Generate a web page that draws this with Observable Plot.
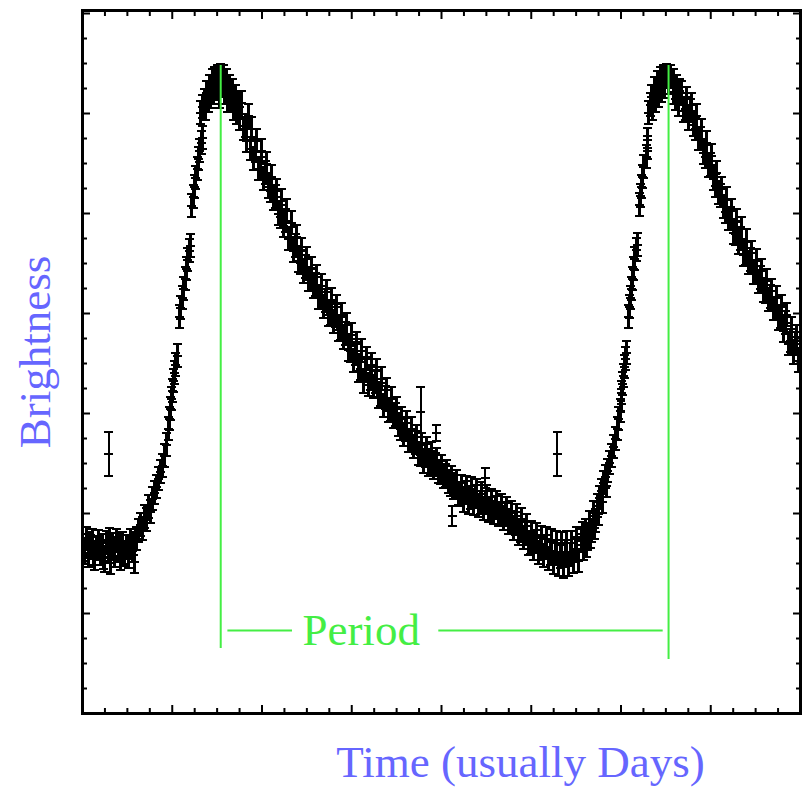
<!DOCTYPE html>
<html><head><meta charset="utf-8">
<script src="https://cdn.jsdelivr.net/npm/d3@7"></script>
<script src="https://cdn.jsdelivr.net/npm/@observablehq/plot@0.6"></script>
<style>body{margin:0;background:#fff}#chart{width:802px;height:789px}</style>
</head><body><div id="chart"></div>
<script>
// Time (days), Brightness (arbitrary units)
const minimum1 = [[0.00,1.68],[0.01,1.64],[0.02,1.61],[0.04,1.75],[0.07,1.58],[0.08,1.70],[0.09,1.67],[0.11,1.73],[0.12,1.60],[0.13,1.55],[0.16,1.65],[0.18,1.72],[0.19,1.66],[0.20,1.60],[0.22,1.68],[0.23,1.56],[0.25,1.53],[0.27,1.71],[0.29,1.62],[0.30,1.74],[0.31,1.51],[0.33,1.69],[0.35,1.65],[0.36,1.58],[0.38,1.73],[0.40,1.63],[0.41,1.68],[0.42,1.55],[0.45,1.70],[0.46,1.59],[0.47,1.61],[0.49,1.67],[0.51,1.57],[0.52,1.66],[0.53,1.73],[0.56,1.63],[0.57,1.70],[0.58,1.52],[0.60,1.75]];
const rise1 = [[0.62,1.83],[0.65,1.89],[0.67,1.85],[0.69,1.97],[0.71,1.94],[0.74,2.07],[0.76,2.02],[0.78,2.15],[0.80,2.21],[0.82,2.27],[0.85,2.35],[0.87,2.42],[0.89,2.48],[0.91,2.58],[0.94,2.69],[0.96,2.85],[0.97,2.95],[0.98,3.05],[0.99,3.15],[1.00,3.23],[1.01,3.33],[1.03,3.41],[1.04,3.49],[1.06,3.58],[1.08,3.97],[1.09,4.06],[1.11,4.16],[1.13,4.25],[1.15,4.35],[1.16,4.45],[1.17,4.54],[1.19,4.63],[1.20,4.68],[1.21,5.08],[1.24,5.17],[1.25,5.27],[1.26,5.36],[1.28,5.45],[1.29,5.55],[1.30,5.63],[1.33,5.71],[1.34,5.76]];
const peak1 = [[1.31,6.01],[1.34,6.07],[1.36,6.13],[1.37,6.05],[1.38,6.21],[1.40,6.13],[1.41,6.27],[1.43,6.17],[1.45,6.33],[1.46,6.21],[1.47,6.35],[1.49,6.25],[1.50,6.37],[1.53,6.17],[1.54,6.38],[1.55,6.28],[1.57,6.37],[1.58,6.21],[1.60,6.33],[1.62,6.13],[1.64,6.27],[1.65,6.15],[1.67,6.23],[1.68,6.05],[1.70,6.17],[1.72,6.01],[1.74,6.10],[1.75,5.95]];
const decline1 = [[1.77,6.11],[1.79,5.85],[1.82,5.88],[1.83,5.73],[1.85,5.98],[1.87,5.65],[1.88,5.85],[1.91,5.55],[1.93,5.63],[1.94,5.73],[1.96,5.45],[1.98,5.45],[1.99,5.63],[2.02,5.35],[2.04,5.41],[2.05,5.50],[2.07,5.27],[2.09,5.23],[2.11,5.37],[2.13,5.15],[2.15,5.17],[2.16,5.23],[2.18,5.00],[2.21,4.97],[2.22,5.13],[2.24,4.88],[2.26,4.93],[2.27,5.03],[2.30,4.75],[2.32,4.75],[2.33,4.91],[2.35,4.63],[2.37,4.68],[2.38,4.77],[2.41,4.53],[2.43,4.51],[2.44,4.64],[2.46,4.42],[2.48,4.47],[2.50,4.55],[2.52,4.34],[2.54,4.34],[2.55,4.45],[2.57,4.27],[2.60,4.29],[2.61,4.37],[2.63,4.16],[2.65,4.16],[2.66,4.28],[2.69,4.07],[2.71,4.13],[2.72,4.22],[2.74,3.99],[2.76,4.00],[2.77,4.14],[2.80,3.92],[2.82,3.98],[2.83,4.07],[2.85,3.84],[2.87,3.85],[2.89,3.99],[2.91,3.76],[2.93,3.80],[2.94,3.89],[2.96,3.64],[2.99,3.63],[3.00,3.79],[3.02,3.53],[3.04,3.60],[3.05,3.70],[3.08,3.43],[3.10,3.45],[3.11,3.63],[3.13,3.32],[3.15,3.45],[3.16,3.55],[3.19,3.29],[3.21,3.35],[3.22,3.49],[3.24,3.27],[3.26,3.32],[3.28,3.43],[3.30,3.17],[3.32,3.19],[3.33,3.35],[3.35,3.08],[3.38,3.16],[3.39,3.24],[3.41,3.03],[3.43,3.04],[3.44,3.15],[3.47,2.97],[3.49,2.99],[3.50,3.05],[3.52,2.89],[3.54,2.85],[3.55,2.95],[3.58,2.79],[3.60,2.84],[3.61,2.91],[3.63,2.73],[3.65,2.73],[3.67,2.85],[3.69,2.67],[3.71,2.71],[3.72,2.77],[3.74,2.60],[3.77,2.59],[3.78,2.69],[3.80,2.52],[3.82,2.58],[3.83,2.65],[3.86,2.49],[3.88,2.51],[3.89,2.60],[3.91,2.46],[3.93,2.49],[3.94,2.54],[3.97,2.42],[3.99,2.41],[4.00,2.47],[4.02,2.37],[4.04,2.38],[4.06,2.42],[4.08,2.32],[4.10,2.29],[4.11,2.36],[4.13,2.26],[4.16,2.27],[4.17,2.32],[4.19,2.20],[4.21,2.19],[4.22,2.27],[4.25,2.13],[4.27,2.21],[4.28,2.26],[4.30,2.11],[4.32,2.16],[4.33,2.25],[4.36,2.10],[4.38,2.17],[4.39,2.23],[4.41,2.08],[4.43,2.11],[4.45,2.20],[4.47,2.05],[4.49,2.11],[4.50,2.17],[4.52,2.03],[4.55,2.05],[4.56,2.13],[4.58,2.01],[4.60,2.06],[4.61,2.11],[4.64,1.99],[4.66,2.00],[4.67,2.08],[4.69,1.95],[4.71,1.99],[4.72,2.05],[4.75,1.91],[4.77,1.91],[4.78,2.01],[4.80,1.85],[4.82,1.90],[4.84,1.98],[4.86,1.80],[4.88,1.83],[4.89,1.94],[4.91,1.76],[4.94,1.80],[4.95,1.88],[4.97,1.70],[4.99,1.71],[5.00,1.81],[5.03,1.65],[5.05,1.72],[5.06,1.79],[5.08,1.61],[5.10,1.65],[5.11,1.76],[5.14,1.58],[5.16,1.67],[5.17,1.75],[5.19,1.55],[5.21,1.60],[5.23,1.73],[5.25,1.51],[5.27,1.62],[5.28,1.71],[5.30,1.49],[5.33,1.57],[5.34,1.70],[5.36,1.47],[5.38,1.62],[5.39,1.71],[5.42,1.49],[5.44,1.59],[5.45,1.71],[5.47,1.52],[5.49,1.65],[5.50,1.75],[5.53,1.53]];
const rise2 = [[5.56,1.73],[5.57,1.80],[5.58,1.65],[5.60,1.83],[5.62,1.68],[5.63,1.75],[5.65,1.91],[5.66,1.77],[5.67,1.83],[5.69,2.01],[5.71,1.86],[5.72,1.93],[5.74,2.08],[5.75,2.00],[5.76,2.16],[5.78,2.23],[5.79,2.12],[5.80,2.31],[5.83,2.37],[5.84,2.28],[5.85,2.43],[5.87,2.51],[5.89,2.58],[5.92,2.67],[5.94,2.75],[5.96,2.85],[5.97,2.95],[5.99,3.03],[6.00,3.13],[6.01,3.21],[6.02,3.30],[6.03,3.38],[6.04,3.47],[6.05,3.55],[6.06,3.61],[6.08,3.97],[6.09,4.07],[6.11,4.16],[6.12,4.25],[6.13,4.35],[6.14,4.45],[6.15,4.55],[6.17,4.64],[6.18,4.69],[6.21,5.09],[6.22,5.18],[6.23,5.27],[6.24,5.37],[6.25,5.47],[6.28,5.57],[6.29,5.66],[6.30,5.74]];
const peak2 = [[6.31,6.01],[6.33,6.09],[6.34,6.17],[6.35,6.05],[6.37,6.25],[6.38,6.13],[6.41,6.31],[6.42,6.18],[6.44,6.35],[6.45,6.23],[6.47,6.37],[6.48,6.27],[6.51,6.38],[6.53,6.31],[6.55,6.37],[6.58,6.21],[6.59,6.33],[6.61,6.15],[6.62,6.27],[6.64,6.09],[6.65,6.23]];
const decline2 = [[6.67,6.21],[6.70,6.03],[6.72,6.05],[6.73,6.15],[6.75,5.95],[6.77,6.03],[6.79,6.09],[6.81,5.89],[6.83,5.85],[6.84,5.98],[6.86,5.75],[6.89,5.75],[6.90,5.83],[6.92,5.61],[6.94,5.57],[6.95,5.71],[6.97,5.48],[7.00,5.49],[7.01,5.58],[7.03,5.35],[7.05,5.28],[7.06,5.41],[7.09,5.21],[7.11,5.18],[7.12,5.25],[7.14,5.07],[7.16,5.02],[7.18,5.15],[7.20,4.95],[7.22,4.95],[7.23,5.03],[7.25,4.81],[7.28,4.80],[7.29,4.93],[7.31,4.71],[7.33,4.75],[7.34,4.85],[7.36,4.59],[7.39,4.60],[7.40,4.73],[7.42,4.51],[7.44,4.54],[7.45,4.61],[7.48,4.41],[7.50,4.41],[7.51,4.53],[7.53,4.32],[7.55,4.36],[7.57,4.43],[7.59,4.23],[7.61,4.22],[7.62,4.33],[7.64,4.14],[7.67,4.17],[7.68,4.23],[7.70,4.05],[7.72,4.05],[7.73,4.16],[7.75,3.95],[7.78,3.97],[7.79,4.07],[7.81,3.83],[7.83,3.91],[7.84,3.99],[7.87,3.70],[7.89,3.73],[7.90,3.85],[7.92,3.61],[7.94,3.70],[7.96,3.77],[7.98,3.53],[8.00,3.61]];
// [time, brightness, error]
const outliers = [[0.29,2.60,0.22],[3.77,3.02,0.25],[5.29,2.60,0.22],[4.12,1.98,0.10],[3.94,2.81,0.08],[4.49,2.36,0.10]];
const typicalError = 0.115;

// Period annotation
const peakTimes = [1.54, 6.53];
const peakLineBottoms = [0.65, 0.54];
const peakLineTop = 6.48;
const periodLevel = 0.83;
const periodSegments = [[1.62, 2.34], [3.97, 6.47]];
const periodLabel = "Period";
const periodLabelTime = 2.45;

const xLabel = "Time (usually Days)";
const yLabel = "Brightness";
const xMajor = [0,1,2,3,4,5,6,7,8];
const yMajor = [0,1,2,3,4,5,6,7];
const xMinor = d3.range(0, 8.001, 0.25).filter(v => v % 1 !== 0);
const yMinor = d3.range(0, 7.001, 0.25).filter(v => v % 1 !== 0);

const band = [...minimum1, ...rise1, ...peak1, ...decline1, ...rise2, ...peak2, ...decline2]
  .map(d => ({t: d[0], b: d[1], e: typicalError}));
const odd = outliers.map(d => ({t: d[0], b: d[1], e: d[2]}));
const obs = band.concat(odd);

const green = "#44ee44";
const blue = "#6666ff";
const capHalf = 0.05;
const midHalf = 0.05;
const dataStyle = {stroke: "black", strokeWidth: 2, clip: true, shapeRendering: "crispEdges"};

const axisOpts = {tickFormat: () => "", label: null, strokeWidth: 2};

const chart = Plot.plot({
  width: 802, height: 789,
  marginLeft: 82, marginRight: 2, marginTop: 10, marginBottom: 76,
  style: {fontFamily: "'Liberation Serif', 'Times New Roman', serif", background: "white", overflow: "visible"},
  x: {domain: [0, 8], axis: null},
  y: {domain: [0, 7.03], axis: null},
  marks: [
    Plot.ruleX(band, {x: "t", y1: d => d.b - d.e, y2: d => d.b + d.e, ...dataStyle, strokeWidth: 3}),
    Plot.ruleX(odd, {x: "t", y1: d => d.b - d.e, y2: d => d.b + d.e, ...dataStyle}),
    Plot.link(obs, {x1: d => d.t - capHalf, x2: d => d.t + capHalf, y1: d => d.b + d.e, y2: d => d.b + d.e, ...dataStyle}),
    Plot.link(obs, {x1: d => d.t - capHalf, x2: d => d.t + capHalf, y1: d => d.b - d.e, y2: d => d.b - d.e, ...dataStyle}),
    Plot.link(obs, {x1: d => d.t - midHalf, x2: d => d.t + midHalf, y1: "b", y2: "b", ...dataStyle}),
    Plot.ruleX(peakTimes, {x: d => d, y1: (d, i) => peakLineBottoms[i], y2: peakLineTop, stroke: green, strokeWidth: 2}),
    Plot.ruleY(periodSegments, {y: periodLevel, x1: d => d[0], x2: d => d[1], stroke: green, strokeWidth: 2}),
    Plot.text([periodLabel], {x: periodLabelTime, y: periodLevel, textAnchor: "start", lineAnchor: "middle", fontSize: 45, fill: green}),
    Plot.frame({stroke: "black", strokeWidth: 3}),
    Plot.axisX(xMajor, {anchor: "bottom", tickSize: -8, ...axisOpts}),
    Plot.axisX(xMinor, {anchor: "bottom", tickSize: -5, ...axisOpts}),
    Plot.axisX(xMajor, {anchor: "top", tickSize: -8, ...axisOpts}),
    Plot.axisX(xMinor, {anchor: "top", tickSize: -5, ...axisOpts}),
    Plot.axisY(yMajor, {anchor: "left", tickSize: -8, ...axisOpts}),
    Plot.axisY(yMinor, {anchor: "left", tickSize: -5, ...axisOpts}),
    Plot.axisY(yMajor, {anchor: "right", tickSize: -8, ...axisOpts}),
    Plot.axisY(yMinor, {anchor: "right", tickSize: -5, ...axisOpts}),
    Plot.text([xLabel], {frameAnchor: "bottom", textAnchor: "middle", lineAnchor: "middle", dx: 79, dy: 49, fontSize: 45, fill: blue}),
    Plot.text([yLabel], {frameAnchor: "left", textAnchor: "middle", lineAnchor: "middle", rotate: -90, dx: -47, dy: -10, fontSize: 45, fill: blue})
  ]
});
document.getElementById("chart").appendChild(chart);
</script>
</body></html>
